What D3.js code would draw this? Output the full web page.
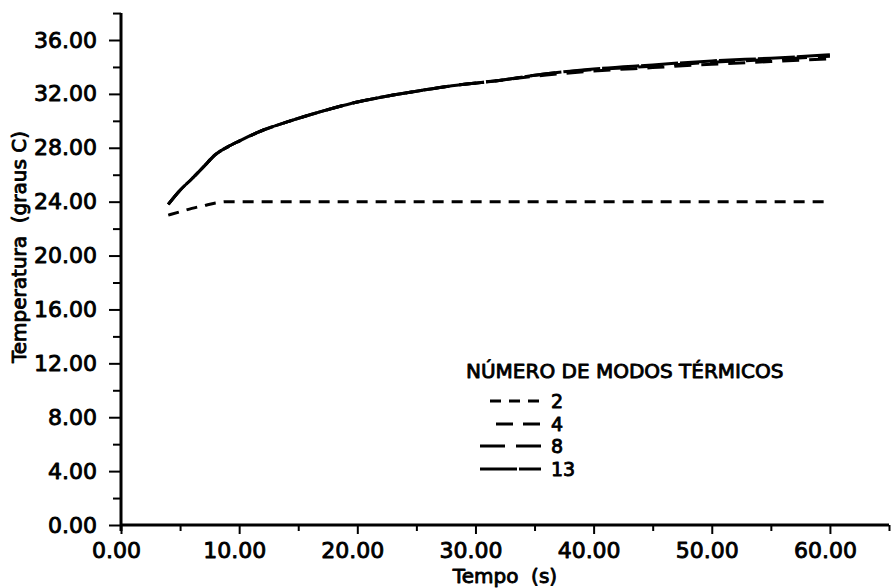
<!DOCTYPE html>
<html>
<head>
<meta charset="utf-8">
<script src="https://cdn.jsdelivr.net/npm/d3@7/dist/d3.min.js"></script>
<style>
  html, body { margin: 0; padding: 0; background: #fff; }
  svg { display: block; }
  text { font-family: "DejaVu Sans", sans-serif; fill: #000; }
</style>
</head>
<body>
<svg id="chart" width="895" height="588"></svg>
<script>
// Tempo (s) sample points shared by all series
const time = [4, 5, 6, 7, 8, 9, 10, 12, 14, 16, 18, 20, 22, 25, 28, 32, 36, 40, 45, 50, 55, 60];

// Temperatura (graus C) for each number of thermal modes
const modes2  = [23.0, 23.25, 23.5, 23.7, 23.9, 24.0, 24.0, 24.0, 24.0, 24.0, 24.0, 24.0, 24.0, 24.0, 24.0, 24.0, 24.0, 24.0, 24.0, 24.0, 24.0, 24.0];
const modes4  = [23.8, 24.85, 25.7, 26.6, 27.5, 28.05, 28.5, 29.3, 29.9, 30.45, 30.95, 31.4, 31.75, 32.2, 32.6, 33.0, 33.4, 33.7, 33.95, 34.2, 34.4, 34.6];
const modes8  = [23.8, 24.85, 25.7, 26.6, 27.5, 28.05, 28.5, 29.3, 29.9, 30.45, 30.95, 31.4, 31.75, 32.2, 32.6, 33.0, 33.5, 33.8, 34.05, 34.35, 34.55, 34.8];
const modes13 = [23.8, 24.85, 25.7, 26.6, 27.5, 28.05, 28.5, 29.3, 29.9, 30.45, 30.95, 31.4, 31.75, 32.2, 32.6, 33.0, 33.5, 33.85, 34.15, 34.45, 34.65, 34.9];

const seriesLabels = ["2", "4", "8", "13"];
const legendTitle = "NÚMERO DE MODOS TÉRMICOS";

// Axis ticks
const xTickValues = [0, 10, 20, 30, 40, 50, 60];
const xMinorTicks = [5, 15, 25, 35, 45, 55, 65];
const yTickValues = [0, 4, 8, 12, 16, 20, 24, 28, 32, 36];
const yMinorTicks = [2, 6, 10, 14, 18, 22, 26, 30, 34, 38];

const xTitle = "Tempo  (s)";
const yTitle = "Temperatura  (graus C)";

const svg = d3.select("#chart");
svg.append("rect").attr("width", 895).attr("height", 588).attr("fill", "#fff");

const x = d3.scaleLinear().domain([0, 65]).range([121, 889]);
const y = d3.scaleLinear().domain([0, 36]).range([525, 40]);
const fmt = d3.format(".2f");

// Heavy plotter-like lettering
const textStyle = sel => sel
  .attr("font-family", "DejaVu Sans, sans-serif")
  .attr("fill", "#000")
  .attr("stroke", "#000")
  .attr("stroke-width", 0.9)
  .attr("stroke-linejoin", "round");

// Y axis
const yMajor = svg.append("g").attr("transform", `translate(${x(0)},0)`)
  .call(d3.axisLeft(y).tickValues(yTickValues).tickFormat(fmt)
    .tickSizeInner(12).tickSizeOuter(0).tickPadding(12));
const yMinor = svg.append("g").attr("transform", `translate(${x(0)},0)`)
  .call(d3.axisLeft(y).tickValues(yMinorTicks).tickFormat("")
    .tickSizeInner(8).tickSizeOuter(0));

// X axis
const xMajor = svg.append("g").attr("transform", `translate(0,${y(0)})`)
  .call(d3.axisBottom(x).tickValues(xTickValues).tickFormat(fmt)
    .tickSizeInner(9).tickSizeOuter(0).tickPadding(8));
const xMinor = svg.append("g").attr("transform", `translate(0,${y(0)})`)
  .call(d3.axisBottom(x).tickValues(xMinorTicks).tickFormat("")
    .tickSizeInner(6).tickSizeOuter(0));

[yMajor, yMinor, xMajor, xMinor].forEach(g => {
  g.select(".domain").remove();
  g.selectAll(".tick line").attr("stroke", "#000").attr("stroke-width", 2);
  g.selectAll(".tick text").attr("font-size", 22).call(textStyle);
});
xMajor.selectAll(".tick text").attr("dx", -5);

// Axis lines
svg.append("line")
  .attr("x1", x(0)).attr("x2", x(0))
  .attr("y1", y(38)).attr("y2", y(0) + 6)
  .attr("stroke", "#000").attr("stroke-width", 3);
svg.append("line")
  .attr("x1", x(0)).attr("x2", x(65))
  .attr("y1", y(0)).attr("y2", y(0))
  .attr("stroke", "#000").attr("stroke-width", 3);

// Axis titles
svg.append("text")
  .attr("x", (x(0) + x(65)) / 2).attr("y", 583)
  .attr("text-anchor", "middle").attr("font-size", 20)
  .attr("xml:space", "preserve")
  .call(textStyle).text(xTitle);
svg.append("text")
  .attr("transform", `translate(26,247) rotate(-90)`)
  .attr("text-anchor", "middle").attr("font-size", 20)
  .attr("xml:space", "preserve")
  .call(textStyle).text(yTitle);

// Curves
const series = [
  { label: seriesLabels[0], values: modes2,  dash: "11,8" },
  { label: seriesLabels[1], values: modes4,  dash: "17,10" },
  { label: seriesLabels[2], values: modes8,  dash: "25,11" },
  { label: seriesLabels[3], values: modes13, dash: "37,2" }
];

const line = d3.line()
  .x((d, i) => x(time[i]))
  .y(d => y(d))
  .curve(d3.curveMonotoneX);

svg.append("g").selectAll("path")
  .data(series)
  .join("path")
  .attr("d", d => line(d.values))
  .attr("fill", "none")
  .attr("stroke", "#000")
  .attr("stroke-width", 3)
  .attr("stroke-dasharray", d => d.dash);

// Legend
const legend = svg.append("g");
legend.append("text")
  .attr("x", 466).attr("y", 378)
  .attr("font-size", 20)
  .attr("xml:space", "preserve")
  .call(textStyle).text(legendTitle);

const legendRows = [
  { x1: 490, y: 401 },
  { x1: 496, y: 424 },
  { x1: 480, y: 446 },
  { x1: 480, y: 469 }
];

legend.selectAll("line.key")
  .data(series)
  .join("line")
  .attr("class", "key")
  .attr("x1", (d, i) => legendRows[i].x1)
  .attr("x2", 541)
  .attr("y1", (d, i) => legendRows[i].y)
  .attr("y2", (d, i) => legendRows[i].y)
  .attr("stroke", "#000")
  .attr("stroke-width", 3)
  .attr("stroke-dasharray", d => d.dash);

legend.selectAll("text.key")
  .data(series)
  .join("text")
  .attr("class", "key")
  .attr("x", 551)
  .attr("y", (d, i) => legendRows[i].y + 7)
  .attr("font-size", 19)
  .call(textStyle)
  .text(d => d.label);
</script>
</body>
</html>
